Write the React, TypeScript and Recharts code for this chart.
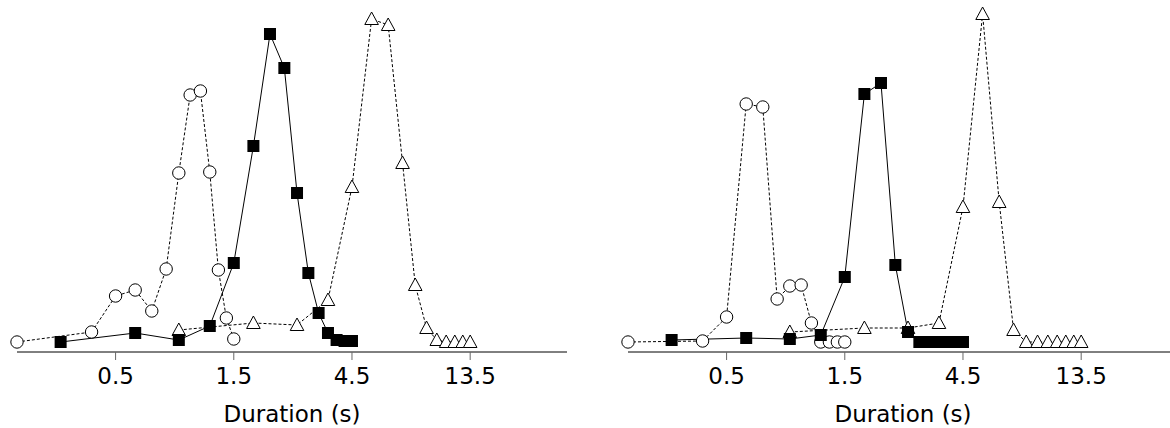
import React from "react";
import { LineChart, Line, XAxis, YAxis } from "recharts";

const ticks = [0.5, 1.5, 4.5, 13.5];

const leftCircles = [
  { x: 0.2, y: 10 }, { x: 0.4, y: 20 }, { x: 0.5, y: 56 }, { x: 0.6, y: 62 }, { x: 0.7, y: 41 },
  { x: 0.8, y: 83 }, { x: 0.9, y: 179 }, { x: 1.0, y: 257 }, { x: 1.1, y: 261 }, { x: 1.2, y: 180 },
  { x: 1.3, y: 82 }, { x: 1.4, y: 34 }, { x: 1.5, y: 13 },
];
const leftSquares = [
  { x: 0.3, y: 10 }, { x: 0.6, y: 19 }, { x: 0.9, y: 12 }, { x: 1.2, y: 26 }, { x: 1.5, y: 89 },
  { x: 1.8, y: 206 }, { x: 2.1, y: 318 }, { x: 2.4, y: 284 }, { x: 2.7, y: 159 }, { x: 3.0, y: 79 },
  { x: 3.3, y: 39 }, { x: 3.6, y: 19 }, { x: 3.9, y: 12 }, { x: 4.2, y: 11 }, { x: 4.5, y: 11 },
];
const leftTriangles = [
  { x: 0.9, y: 22 }, { x: 1.8, y: 29 }, { x: 2.7, y: 27 }, { x: 3.6, y: 52 }, { x: 4.5, y: 165 },
  { x: 5.4, y: 333 }, { x: 6.3, y: 327 }, { x: 7.2, y: 189 }, { x: 8.1, y: 67 }, { x: 9.0, y: 24 },
  { x: 9.9, y: 12 }, { x: 10.8, y: 10 }, { x: 11.7, y: 10 }, { x: 12.6, y: 10 }, { x: 13.5, y: 10 },
];

const rightCircles = [
  { x: 0.2, y: 10 }, { x: 0.4, y: 11 }, { x: 0.5, y: 35 }, { x: 0.6, y: 248 }, { x: 0.7, y: 245 },
  { x: 0.8, y: 53 }, { x: 0.9, y: 66 }, { x: 1.0, y: 67 }, { x: 1.1, y: 29 }, { x: 1.2, y: 10 },
  { x: 1.3, y: 10 }, { x: 1.4, y: 10 }, { x: 1.5, y: 10 },
];
const rightSquares = [
  { x: 0.3, y: 12 }, { x: 0.6, y: 14 }, { x: 0.9, y: 13 }, { x: 1.2, y: 17 }, { x: 1.5, y: 75 },
  { x: 1.8, y: 258 }, { x: 2.1, y: 269 }, { x: 2.4, y: 87 }, { x: 2.7, y: 20 }, { x: 3.0, y: 10 },
  { x: 3.3, y: 10 }, { x: 3.6, y: 10 }, { x: 3.9, y: 10 }, { x: 4.2, y: 10 }, { x: 4.5, y: 10 },
];
const rightTriangles = [
  { x: 0.9, y: 20 }, { x: 1.8, y: 24 }, { x: 2.7, y: 24 }, { x: 3.6, y: 29 }, { x: 4.5, y: 145 },
  { x: 5.4, y: 338 }, { x: 6.3, y: 150 }, { x: 7.2, y: 22 }, { x: 8.1, y: 10 }, { x: 9.0, y: 10 },
  { x: 9.9, y: 10 }, { x: 10.8, y: 10 }, { x: 11.7, y: 10 }, { x: 12.6, y: 10 }, { x: 13.5, y: 10 },
];

const Circle = (p: any) => (
  <circle key={p.index} cx={p.cx} cy={p.cy} r={6.2} fill="#fff" stroke="#000" strokeWidth={1} />
);
const Square = (p: any) => (
  <rect key={p.index} x={p.cx - 6} y={p.cy - 6} width={12} height={12} fill="#000" />
);
const Tri = (p: any) => (
  <polygon
    key={p.index}
    points={`${p.cx},${p.cy - 7} ${p.cx - 6.8},${p.cy + 5.5} ${p.cx + 6.8},${p.cy + 5.5}`}
    fill="#fff"
    stroke="#000"
    strokeWidth={1}
  />
);

const Panel = ({ circles, squares, triangles, left }: any) => (
  <div style={{ position: "absolute", left, top: 0 }}>
    <LineChart width={580} height={428} margin={{ top: 10, right: 13, left: 17, bottom: 0 }}>
      <XAxis
        type="number"
        dataKey="x"
        scale="log"
        domain={[0.2, 33.2]}
        ticks={ticks}
        height={76}
        tickSize={8}
        tickMargin={8}
        tickLine={{ stroke: "#666" }}
        axisLine={{ stroke: "#000" }}
        tick={{ fill: "#000", fontSize: 23, fontFamily: "DejaVu Sans" }}
        tickFormatter={(v: number) => String(v)}
        label={{ value: "Duration (s)", position: "insideBottom", offset: 6, fill: "#000", fontSize: 23, fontFamily: "DejaVu Sans" }}
      />
      <YAxis hide domain={[0, 342]} type="number" />
      <Line data={circles} dataKey="y" stroke="#000" strokeWidth={1} strokeDasharray="3 2" dot={Circle} isAnimationActive={false} />
      <Line data={triangles} dataKey="y" stroke="#000" strokeWidth={1} strokeDasharray="3 2" dot={Tri} isAnimationActive={false} />
      <Line data={squares} dataKey="y" stroke="#000" strokeWidth={1} dot={Square} isAnimationActive={false} />
    </LineChart>
  </div>
);

export default function App() {
  return (
    <div style={{ position: "absolute", left: 0, top: 0, width: 1170, height: 428, background: "#fff", overflow: "hidden" }}>
      <Panel circles={leftCircles} squares={leftSquares} triangles={leftTriangles} left={0} />
      <Panel circles={rightCircles} squares={rightSquares} triangles={rightTriangles} left={611} />
    </div>
  );
}
